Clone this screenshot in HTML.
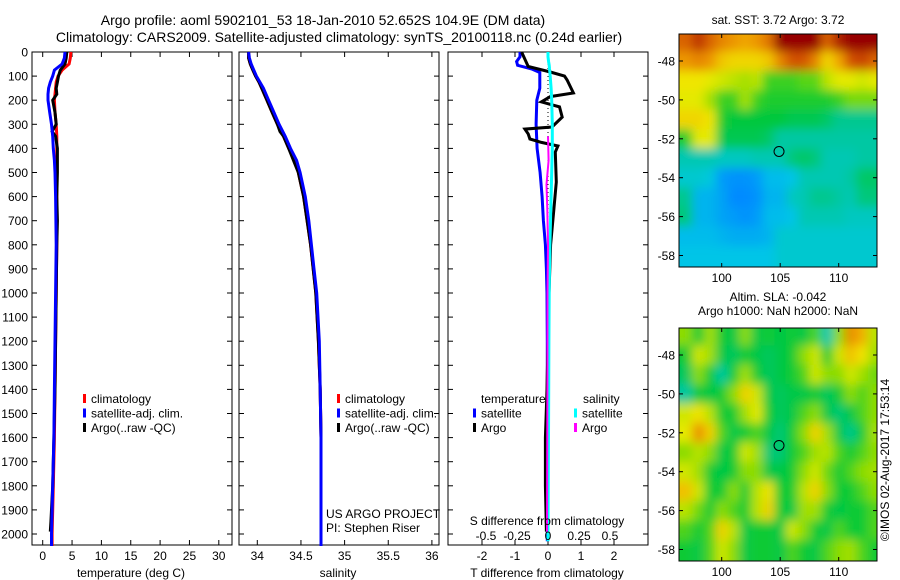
<!DOCTYPE html>
<html><head><meta charset="utf-8">
<style>
html,body{margin:0;padding:0;background:#fff;}
svg{display:block;font-family:"Liberation Sans",sans-serif;}
text{fill:#000;}
</style></head>
<body>
<svg id="fig" width="900" height="580" viewBox="0 0 900 580" xmlns="http://www.w3.org/2000/svg">
<defs>
<filter id="blur1" x="0" y="0" width="1" height="1"><feGaussianBlur stdDeviation="5" edgeMode="duplicate"/></filter>
<filter id="blur2" x="0" y="0" width="1" height="1"><feGaussianBlur stdDeviation="5" edgeMode="duplicate"/></filter>
<clipPath id="clipM1"><rect x="679" y="34" width="198" height="233"/></clipPath>
<clipPath id="clipM2"><rect x="679" y="328" width="198" height="233"/></clipPath>
</defs>
<text x="323" y="25" font-size="14" text-anchor="middle">Argo profile: aoml 5902101_53 18-Jan-2010 52.652S 104.9E (DM data)</text>
<text x="339" y="42" font-size="14" text-anchor="middle">Climatology: CARS2009. Satellite-adjusted climatology: synTS_20100118.nc (0.24d earlier)</text>
<g id="g1"></g>
<g id="g2"></g>
<g id="g3"></g>
<g id="m1"></g>
<g id="m2"></g>
<text transform="translate(889,460) rotate(-90)" font-size="12" text-anchor="middle">©IMOS 02-Aug-2017 17:53:14</text>
</svg>
<script>
// ---------- profile data ----------
const climDepth = [0,25,50,75,100,125,150,175,200,250,300,350,400,450,500,600,700,800,900,1000,1200,1400,1600,1800,2000,2050];
const climTemp  = [4.8,4.7,4.5,3.3,2.6,2.3,2.2,2.1,2.0,2.1,2.3,2.4,2.4,2.4,2.4,2.4,2.4,2.4,2.35,2.3,2.2,2.1,2.0,1.8,1.6,1.6];
const satTemp   = [3.8,3.7,3.3,2.0,1.7,1.3,1.0,0.9,0.9,1.2,1.5,1.7,1.8,2.0,2.1,2.2,2.25,2.3,2.25,2.2,2.1,2.0,1.9,1.7,1.5,1.5];
const climSal   = [33.90,33.90,33.92,33.95,33.98,34.02,34.05,34.08,34.11,34.17,34.23,34.30,34.36,34.43,34.47,34.53,34.57,34.61,34.64,34.67,34.70,34.72,34.73,34.73,34.73,34.73];
const satSal    = [33.90,33.91,33.93,33.96,33.99,34.03,34.07,34.10,34.13,34.19,34.25,34.32,34.38,34.45,34.49,34.55,34.59,34.62,34.65,34.68,34.71,34.72,34.73,34.73,34.73,34.73];
const argoDepth = [0,25,50,75,100,125,150,175,200,250,300,330,350,400,500,600,700,800,1000,1200,1400,1600,1800,1950,1990];
const argoTemp  = [4.1,4.0,3.8,3.0,2.7,2.5,2.3,2.4,1.7,2.1,2.3,1.6,2.2,2.5,2.5,2.4,2.5,2.4,2.3,2.2,2.1,1.9,1.7,1.4,1.3];
const argoSal   = [33.90,33.90,33.92,33.95,33.98,34.02,34.05,34.08,34.11,34.17,34.23,34.26,34.30,34.36,34.47,34.53,34.57,34.61,34.67,34.70,34.72,34.73,34.73,34.73,34.73];
const diffDepth = [0,20,40,55,70,85,150,200,300,400,500,600,700,800,900,1000,1200,1500,2000,2030];
const tDiffSat  = [-0.85,-0.85,-0.95,-0.92,-0.5,-0.25,-0.25,-0.34,-0.36,-0.33,-0.24,-0.18,-0.14,-0.08,-0.05,-0.03,-0.02,-0.02,-0.02,-0.02];
const sDiffSat  = [0.0,0.0,0.005,0.01,0.012,0.015,0.025,0.03,0.035,0.035,0.03,0.025,0.02,0.015,0.012,0.01,0.007,0.005,0.0,0.0];
const argoDiffDepth = [0,30,60,83,100,116,170,185,207,228,270,311,320,340,361,375,390,415,540,665,800,1000,1400,1600,1800,1990];
const tDiffArgo = [-0.8,-0.7,-0.6,0.07,0.5,0.58,0.77,0.07,-0.2,0.35,0.43,0.12,-0.7,-0.6,-0.55,-0.2,0.3,0.22,0.25,0.17,0.08,0.03,-0.03,-0.08,-0.08,-0.05];
const sDiffArgoDepth = [350,450,550,650,800,1000,1400,1990];
const sDiffArgo = [0.0,0.005,-0.012,-0.006,0.0,-0.004,-0.005,-0.008];
const depthTicks = [0,100,200,300,400,500,600,700,800,900,1000,1100,1200,1300,1400,1500,1600,1700,1800,1900,2000];
const tempTicks = [0,5,10,15,20,25,30];
const salTicks = [34,34.5,35,35.5,36];
const tdTicks = [-2,-1,0,1,2];
const sdTicks = [-0.5,-0.25,0,0.25,0.5];
const sdTickLabels = ["-0.5","-0.25","0","0.25","0.5"];

// ---------- map data (lat rows -47..-58, lon cols 97..113) ----------
const mapLons = [97,98,99,100,101,102,103,104,105,106,107,108,109,110,111,112,113];
const mapLats = [-47,-48,-49,-50,-51,-52,-53,-54,-55,-56,-57,-58];
const sstGrid = [
 [6.2,6.5,6.2,6.0,5.9,5.8,5.9,6.1,7.3,7.6,7.6,7.0,6.2,6.6,7.6,7.6,7.5],
 [5.9,6.0,5.9,5.6,5.5,5.5,5.5,5.6,6.0,6.3,6.3,6.0,5.5,5.8,6.3,6.4,6.2],
 [5.4,5.4,5.3,5.2,5.1,5.0,5.1,4.6,4.6,4.6,4.7,4.7,5.1,5.3,5.3,5.2,5.3],
 [5.3,5.3,5.0,4.6,4.6,5.0,4.6,4.5,4.5,4.5,4.5,4.5,4.5,4.6,4.8,4.8,4.8],
 [5.5,5.5,5.4,4.5,4.4,4.4,4.4,4.4,4.4,4.3,4.3,4.3,4.2,4.0,4.0,4.0,4.0],
 [4.5,5.3,5.3,4.3,4.3,4.3,4.3,4.2,3.9,3.9,3.9,3.9,3.9,3.9,3.9,3.9,3.9],
 [3.8,3.8,3.8,3.7,3.7,3.7,3.8,3.8,3.8,4.1,4.2,4.1,3.8,3.8,3.8,3.9,3.9],
 [3.6,3.6,3.5,2.9,2.8,2.8,2.9,3.3,3.3,3.4,3.8,3.8,3.8,3.8,3.9,4.2,4.2],
 [4.0,3.2,3.2,3.0,2.7,2.7,2.8,3.2,3.2,3.7,3.8,4.0,4.0,3.9,3.8,4.1,4.1],
 [4.1,3.2,3.2,3.0,2.9,2.8,2.9,3.3,3.3,3.4,3.8,3.8,3.8,3.8,3.7,3.7,3.7],
 [3.3,3.3,3.3,3.2,3.1,3.1,3.1,3.2,3.6,3.6,3.6,3.6,3.6,3.6,3.6,3.6,3.6],
 [3.4,3.4,3.4,3.4,3.4,3.4,3.4,3.4,3.6,3.6,3.6,3.6,3.6,3.6,3.6,3.6,3.6]
];
const slaGrid = [
 [0.02,-0.02,0.03,-0.02,-0.03,0.02,-0.03,-0.02,-0.03,-0.02,-0.03,0.0,-0.08,0.02,0.12,0.10,0.04],
 [-0.02,0.05,0.03,-0.03,-0.04,-0.02,-0.03,-0.04,-0.03,-0.02,0.02,0.05,-0.02,0.05,0.09,0.07,0.03],
 [-0.04,0.02,-0.02,-0.07,-0.02,0.03,-0.02,-0.04,-0.03,-0.02,0.0,0.05,0.02,0.02,0.05,0.03,0.01],
 [-0.07,-0.02,-0.03,-0.02,0.02,0.08,0.05,-0.03,-0.04,-0.03,-0.03,-0.02,-0.04,-0.02,0.02,0.0,0.02],
 [0.05,0.07,0.04,-0.02,-0.02,0.03,0.06,-0.02,-0.04,-0.03,0.0,0.02,-0.03,-0.05,-0.03,0.0,0.02],
 [0.06,0.12,0.08,0.0,-0.03,-0.02,0.0,-0.03,-0.05,-0.02,0.02,0.08,0.03,-0.03,-0.06,-0.02,0.03],
 [0.02,0.04,0.02,-0.03,-0.02,0.05,0.03,-0.05,-0.05,-0.02,0.0,0.03,0.04,0.0,-0.02,0.0,0.02],
 [0.05,0.03,-0.02,-0.03,-0.02,0.02,0.02,-0.03,-0.03,-0.02,0.02,0.05,0.01,-0.02,0.0,0.02,0.03],
 [0.09,0.05,-0.02,-0.02,0.02,-0.02,0.04,0.07,-0.02,-0.02,0.04,0.08,0.02,-0.02,-0.02,0.0,0.02],
 [0.04,0.01,-0.02,0.02,0.0,-0.02,0.04,0.08,-0.02,-0.03,0.03,0.03,-0.02,-0.03,-0.02,-0.02,0.0],
 [0.0,-0.02,0.0,0.08,0.04,-0.03,-0.02,-0.02,-0.03,0.05,0.02,-0.02,-0.03,0.0,-0.02,-0.02,0.0],
 [-0.02,-0.03,0.0,0.05,0.02,-0.03,-0.02,-0.02,-0.03,0.0,-0.02,-0.03,0.0,0.02,0.03,0.0,-0.02]
];
const latTicks = [-48,-50,-52,-54,-56,-58];
const lonTicks = [100,105,110];
const argoLon = 104.9, argoLat = -52.652;

const NS = "http://www.w3.org/2000/svg";
function mk(parent, tag, attrs, txt){
  const e = document.createElementNS(NS, tag);
  for (const k in attrs) e.setAttribute(k, attrs[k]);
  if (txt !== undefined) e.textContent = txt;
  parent.appendChild(e);
  return e;
}
const TOP = 52, BOT = 545;
const yD = d => TOP + d * 0.241;

function panelFrame(g, x0, x1, xs, ticks, labels, leftLabels, name){
  const r = mk(g, 'rect', {x:x0, y:TOP, width:x1-x0, height:BOT-TOP, fill:'none', stroke:'#000', 'stroke-width':1});
  
  
  depthTicks.forEach(d => {
    const y = yD(d);
    mk(g, 'line', {x1:x0, x2:x0+5, y1:y, y2:y, stroke:'#000'});
    mk(g, 'line', {x1:x1-5, x2:x1, y1:y, y2:y, stroke:'#000'});
    if (leftLabels) {
      const t = mk(g, 'text', {x:x0-4, y:y+4.5, 'font-size':12, 'text-anchor':'end'}, String(d));
      
      
    }
  });
  if (ticks) ticks.forEach((v,i) => {
    const x = xs(v);
    mk(g, 'line', {x1:x, x2:x, y1:TOP, y2:TOP+5, stroke:'#000'});
    mk(g, 'line', {x1:x, x2:x, y1:BOT-5, y2:BOT, stroke:'#000'});
    const t = mk(g, 'text', {x:x, y:BOT+15, 'font-size':12, 'text-anchor':'middle'}, labels[i]);
    
    
  });
}
function line(g, depths, vals, xs, color, name, w){
  const pts = depths.map((d,i) => xs(vals[i]).toFixed(1) + ',' + yD(d).toFixed(1)).join(' ');
  const p = mk(g, 'polyline', {points:pts, fill:'none', stroke:color, 'stroke-width':w||3, 'stroke-linejoin':'miter'});
  
  
}
function legend(g, x, y, color, label, name){
  mk(g, 'rect', {x:x, y:y-9, width:3, height:9, fill:color});
  const t = mk(g, 'text', {x:x+8, y:y, 'font-size':12}, label);
  
  
}

// Panel 1 temperature
const g1 = document.getElementById('g1');
const xT = v => 42.7 + v * 5.87;
panelFrame(g1, 32, 232, xT, tempTicks, tempTicks.map(String), true, 'temperature');
line(g1, climDepth, climTemp, xT, '#ff0000', 'climatology-temperature-line');
line(g1, argoDepth, argoTemp, xT, '#000000', 'argo-temperature-line');
line(g1, climDepth, satTemp, xT, '#0000ff', 'satellite-temperature-line');
legend(g1, 83, 403, '#ff0000', 'climatology', 'legend-climatology');
legend(g1, 83, 417.5, '#0000ff', 'satellite-adj. clim.', 'legend-satellite');
legend(g1, 83, 432, '#000000', 'Argo(..raw -QC)', 'legend-argo');
let t = mk(g1, 'text', {x:131, y:577, 'font-size':12, 'text-anchor':'middle'}, 'temperature (deg C)');



// Panel 2 salinity
const g2 = document.getElementById('g2');
const xS = v => 257.3 + (v - 34) * 87.3;
panelFrame(g2, 239, 439, xS, salTicks, ['34','34.5','35','35.5','36'], false, 'salinity');
line(g2, climDepth, climSal, xS, '#ff0000', 'climatology-salinity-line');
line(g2, argoDepth, argoSal, xS, '#000000', 'argo-salinity-line');
line(g2, climDepth, satSal, xS, '#0000ff', 'satellite-salinity-line');
legend(g2, 337, 403, '#ff0000', 'climatology', 'legend-climatology-2');
legend(g2, 337, 417.5, '#0000ff', 'satellite-adj. clim.', 'legend-satellite-2');
legend(g2, 337, 432, '#000000', 'Argo(..raw -QC)', 'legend-argo-2');
t = mk(g2, 'text', {x:326, y:518, 'font-size':12}, 'US ARGO PROJECT');


t = mk(g2, 'text', {x:326, y:532, 'font-size':12}, 'PI: Stephen Riser');


t = mk(g2, 'text', {x:338, y:577, 'font-size':12, 'text-anchor':'middle'}, 'salinity');



// Panel 3 differences
const g3 = document.getElementById('g3');
const xTD = v => 548 + v * 33;
const xSD = v => 548 + v * 124;
panelFrame(g3, 448, 648, xTD, tdTicks, tdTicks.map(String), false, 'tdiff');
mk(g3, 'line', {x1:548, x2:548, y1:TOP, y2:BOT, stroke:'#000', 'stroke-dasharray':'1,3'});
line(g3, diffDepth, tDiffSat, xTD, '#0000ff', 'satellite-tdiff-line');
line(g3, argoDiffDepth, tDiffArgo, xTD, '#000000', 'argo-tdiff-line');
line(g3, diffDepth, sDiffSat, xSD, '#00ffff', 'satellite-sdiff-line');
line(g3, sDiffArgoDepth, sDiffArgo, xSD, '#ff00ff', 'argo-sdiff-line', 2);
sdTicks.forEach((v,i) => {
  const tt = mk(g3, 'text', {x:xSD(v), y:540, 'font-size':12, 'text-anchor':'middle'}, sdTickLabels[i]);
  
  
});
t = mk(g3, 'text', {x:547, y:525, 'font-size':12, 'text-anchor':'middle'}, 'S difference from climatology');


t = mk(g3, 'text', {x:547, y:577, 'font-size':12, 'text-anchor':'middle'}, 'T difference from climatology');


t = mk(g3, 'text', {x:481, y:403, 'font-size':12}, 'temperature');


t = mk(g3, 'text', {x:583, y:403, 'font-size':12}, 'salinity');


legend(g3, 473, 417.5, '#0000ff', 'satellite', 'legend-t-satellite');
legend(g3, 473, 432, '#000000', 'Argo', 'legend-t-argo');
legend(g3, 574, 417.5, '#00ffff', 'satellite', 'legend-s-satellite');
legend(g3, 574, 432, '#ff00ff', 'Argo', 'legend-s-argo');

// ---------- maps ----------
const cmapStops = [
  [0.0, 0, 90, 255],
  [0.15, 0, 140, 255],
  [0.3, 0, 200, 230],
  [0.4, 0, 200, 160],
  [0.5, 0, 200, 60],
  [0.6, 140, 220, 0],
  [0.7, 240, 235, 0],
  [0.8, 240, 160, 0],
  [0.9, 210, 80, 0],
  [1.0, 150, 0, 0]
];
function cmap(v){
  v = Math.max(0, Math.min(1, v));
  for (let i = 1; i < cmapStops.length; i++) {
    const a = cmapStops[i-1], b = cmapStops[i];
    if (v <= b[0]) {
      const f = (v - a[0]) / (b[0] - a[0]);
      return 'rgb(' + Math.round(a[1]+(b[1]-a[1])*f) + ',' + Math.round(a[2]+(b[2]-a[2])*f) + ',' + Math.round(a[3]+(b[3]-a[3])*f) + ')';
    }
  }
  return 'rgb(150,0,0)';
}
function drawMap(id, top, grid, vmin, vmax, filt, clip, title1, title2){
  const g = document.getElementById(id);
  const L = 679, R = 877, B = top + 233;
  const xL = lon => 721.7 + (lon - 100) * 11.7;
  const yL = lat => (top + 27) + (-48 - lat) * 19.45;
  const cg = mk(g, 'g', {'clip-path':'url(#' + clip + ')'});
  const fg = mk(cg, 'g', {filter:'url(#' + filt + ')'});
  const nr = grid.length, nc = grid[0].length;
  for (let i = -1; i <= nr; i++) {
    for (let j = -1; j <= nc; j++) {
      const ii = Math.max(0, Math.min(nr-1, i)), jj = Math.max(0, Math.min(nc-1, j));
      const lon = mapLons[0] + j, lat = mapLats[0] - i;
      const c = mk(fg, 'rect', {x:(xL(lon-0.5)).toFixed(1), y:(yL(lat+0.5)).toFixed(1), width:12.2, height:19.9, fill:cmap((grid[ii][jj]-vmin)/(vmax-vmin))});
      
      
    }
  }
  const fr = mk(g, 'rect', {x:L, y:top, width:R-L, height:B-top, fill:'none', stroke:'#000'});
  
  
  latTicks.forEach(la => {
    const y = yL(la);
    mk(g, 'line', {x1:L, x2:L+4, y1:y, y2:y, stroke:'#000'});
    mk(g, 'line', {x1:R-4, x2:R, y1:y, y2:y, stroke:'#000'});
    const tt = mk(g, 'text', {x:L-4, y:y+4.5, 'font-size':12, 'text-anchor':'end'}, String(la));
    
    
  });
  lonTicks.forEach(lo => {
    const x = xL(lo);
    mk(g, 'line', {x1:x, x2:x, y1:top, y2:top+4, stroke:'#000'});
    mk(g, 'line', {x1:x, x2:x, y1:B-4, y2:B, stroke:'#000'});
    const tt = mk(g, 'text', {x:x, y:B+15, 'font-size':12, 'text-anchor':'middle'}, String(lo));
    
    
  });
  const m = mk(g, 'ellipse', {cx:xL(argoLon), cy:yL(argoLat), rx:5, ry:5, fill:'none', stroke:'#000', 'stroke-width':1});
  
  
  if (title2) {
    let a = mk(g, 'text', {x:778, y:top-27, 'font-size':12, 'text-anchor':'middle'}, title1);
    
    
    a = mk(g, 'text', {x:778, y:top-13, 'font-size':12, 'text-anchor':'middle'}, title2);
    
    
  } else {
    const a = mk(g, 'text', {x:778, y:top-10, 'font-size':12, 'text-anchor':'middle'}, title1);
    
    
  }
}
drawMap('m1', 34, sstGrid, 2.0, 6.8, 'blur1', 'clipM1', 'sat. SST: 3.72 Argo: 3.72');
drawMap('m2', 328, slaGrid, -0.25, 0.2, 'blur2', 'clipM2', 'Altim. SLA: -0.042', 'Argo h1000: NaN h2000: NaN');
</script>
</body></html>
